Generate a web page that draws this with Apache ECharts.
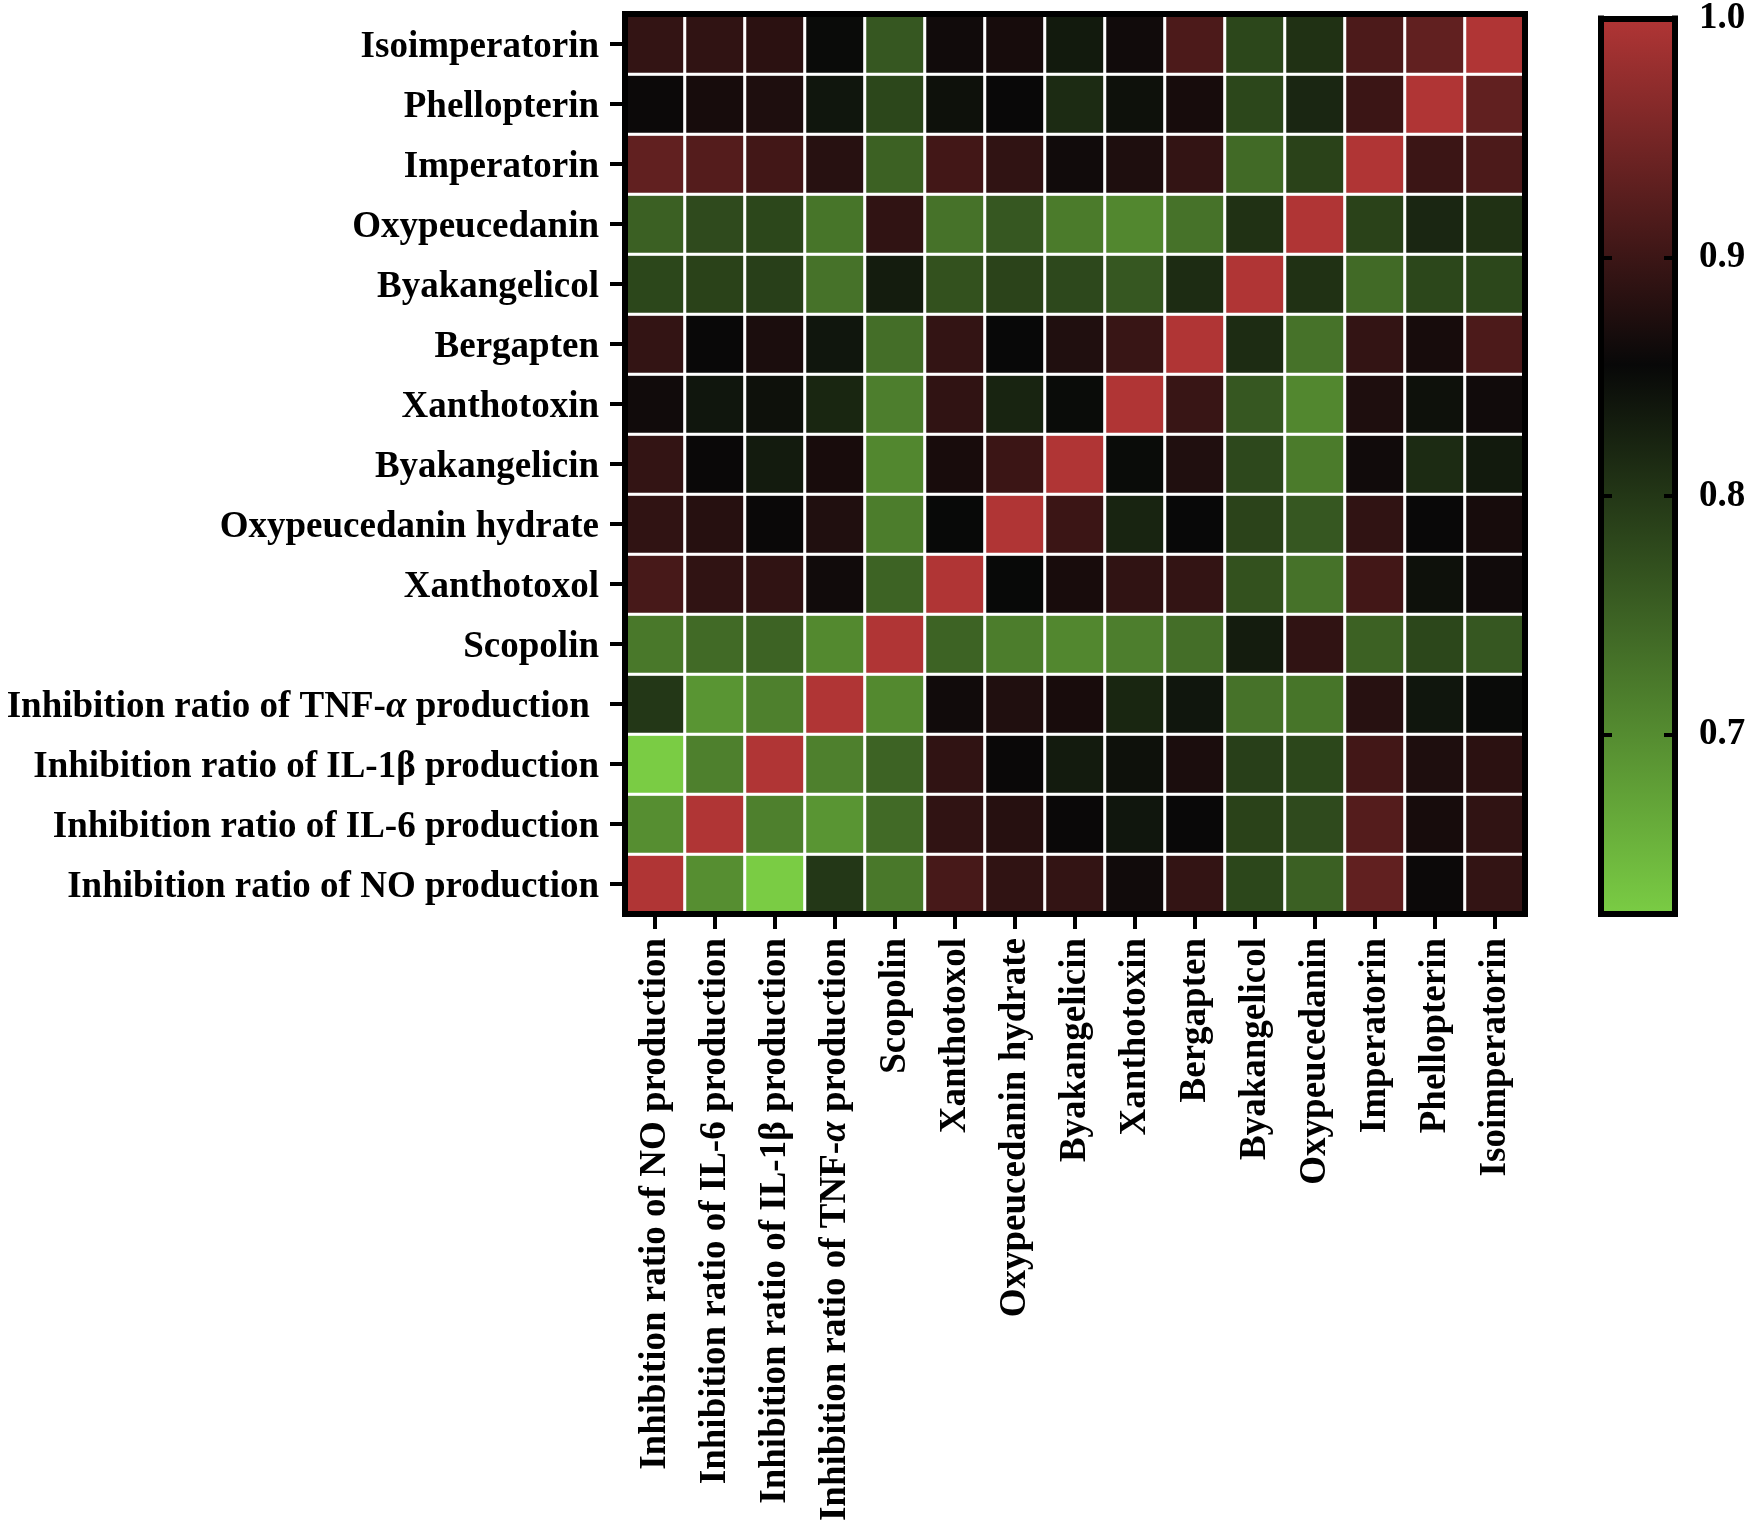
<!DOCTYPE html>
<html><head><meta charset="utf-8">
<script src="https://cdn.jsdelivr.net/npm/echarts@6/dist/echarts.min.js"></script>
<style>html,body{margin:0;padding:0;background:#fff}#c{width:1757px;height:1537px}</style>
</head><body><div id="c"></div>
<script>
// Categories (bottom-to-top on y, left-to-right on x)
const categories = [
  'Inhibition ratio of NO production',
  'Inhibition ratio of IL-6 production',
  'Inhibition ratio of IL-1β production',
  'Inhibition ratio of TNF-α production',
  'Scopolin','Xanthotoxol','Oxypeucedanin hydrate','Byakangelicin','Xanthotoxin',
  'Bergapten','Byakangelicol','Oxypeucedanin','Imperatorin','Phellopterin','Isoimperatorin'
];
// Correlation values, one array per y category (columns follow `categories`)
const rowNO            = [1.000,0.698,0.625,0.800,0.723,0.909,0.889,0.892,0.863,0.892,0.781,0.752,0.932,0.858,0.892];
const rowIL6           = [0.698,1.000,0.714,0.690,0.740,0.889,0.881,0.857,0.838,0.856,0.787,0.777,0.920,0.868,0.889];
const rowIL1b          = [0.625,0.714,1.000,0.714,0.748,0.889,0.857,0.833,0.844,0.872,0.790,0.781,0.905,0.874,0.885];
const rowTNF           = [0.800,0.690,0.714,1.000,0.704,0.863,0.876,0.869,0.820,0.838,0.730,0.727,0.882,0.838,0.851];
const rowScopolin      = [0.723,0.740,0.748,0.704,1.000,0.748,0.718,0.706,0.716,0.735,0.831,0.889,0.750,0.781,0.762];
const rowXanthotoxol   = [0.909,0.889,0.889,0.863,0.748,1.000,0.854,0.869,0.889,0.892,0.769,0.730,0.905,0.844,0.863];
const rowOxyHydrate    = [0.889,0.881,0.857,0.876,0.718,0.854,1.000,0.899,0.822,0.855,0.785,0.762,0.889,0.856,0.868];
const rowByakangelicin = [0.892,0.857,0.833,0.869,0.706,0.869,0.899,1.000,0.850,0.876,0.780,0.720,0.863,0.814,0.834];
const rowXanthotoxin   = [0.863,0.838,0.844,0.820,0.716,0.889,0.822,0.850,1.000,0.896,0.762,0.706,0.874,0.844,0.863];
const rowBergapten     = [0.892,0.856,0.872,0.838,0.735,0.892,0.855,0.876,0.896,1.000,0.812,0.730,0.892,0.868,0.914];
const rowByakangelicol = [0.781,0.787,0.790,0.730,0.831,0.769,0.785,0.780,0.762,0.812,1.000,0.807,0.740,0.781,0.781];
const rowOxypeucedanin = [0.752,0.777,0.781,0.727,0.889,0.730,0.762,0.720,0.706,0.730,0.807,1.000,0.787,0.819,0.807];
const rowImperatorin   = [0.932,0.920,0.905,0.882,0.750,0.905,0.889,0.863,0.874,0.892,0.740,0.787,1.000,0.899,0.914];
const rowPhellopterin  = [0.858,0.868,0.874,0.838,0.781,0.844,0.856,0.814,0.844,0.868,0.781,0.819,0.899,1.000,0.932];
const rowIsoimperatorin= [0.892,0.889,0.885,0.851,0.762,0.863,0.868,0.834,0.863,0.914,0.781,0.807,0.914,0.932,1.000];
const rows = [rowNO,rowIL6,rowIL1b,rowTNF,rowScopolin,rowXanthotoxol,rowOxyHydrate,rowByakangelicin,
  rowXanthotoxin,rowBergapten,rowByakangelicol,rowOxypeucedanin,rowImperatorin,rowPhellopterin,rowIsoimperatorin];
// Colour scale
const scaleMin = 0.625, scaleMax = 1.0;
const colorbarTicks = [0.7, 0.8, 0.9, 1.0];
const colorStops = [
  {v: 0.625, c: [122, 204, 68]},
  {v: 0.855, c: [8, 8, 8]},
  {v: 1.000, c: [176, 53, 53]}
];

function colorAt(v) {
  for (let k = 0; k < colorStops.length - 1; k++) {
    const a = colorStops[k], b = colorStops[k + 1];
    if (v <= b.v || k === colorStops.length - 2) {
      const t = Math.max(0, Math.min(1, (v - a.v) / (b.v - a.v)));
      const c = a.c.map((x, i) => Math.round(x + (b.c[i] - x) * t));
      return 'rgb(' + c.join(',') + ')';
    }
  }
}
const N = 80;
const inRangeColors = [];
for (let k = 0; k <= N; k++) inRangeColors.push(colorAt(scaleMin + (scaleMax - scaleMin) * k / N));
const gradStops = colorStops.slice().reverse().map(s => ({
  offset: (scaleMax - s.v) / (scaleMax - scaleMin), color: 'rgb(' + s.c.join(',') + ')'
}));

const heatData = [];
rows.forEach((r, i) => r.forEach((v, j) => heatData.push([j, i, v])));

const FONT = 'Liberation Serif, Times New Roman, serif';
const txt = {fontFamily: FONT, fontWeight: 'bold', fontSize: 37, color: '#000'};
const richX = {b: Object.assign({}, txt), i: Object.assign({fontStyle: 'italic'}, txt)};
const richY = {b: Object.assign({padding: [7, 0, 0, 0]}, txt), i: Object.assign({fontStyle: 'italic', padding: [7, 0, 0, 0]}, txt)};
function fmt(trail) {
  return function (v) {
    const s = v + (trail && v.indexOf('TNF') >= 0 ? ' ' : '');
    return '{b|' + s.replace('α', '}{i|α}{b|') + '}';
  };
}
const frameLine = {show: true, lineStyle: {color: '#000', width: 6, cap: 'square'}};
const tick = {show: true, length: 15, alignWithLabel: true, lineStyle: {color: '#000', width: 4}};

const chart = echarts.init(document.getElementById('c'));
chart.setOption({
  animation: false,
  backgroundColor: '#fff',
  grid: [
    {left: 625, top: 14, width: 900, height: 900},
    {left: 1601, top: 14, width: 74, height: 900}
  ],
  xAxis: [
    {gridIndex: 0, type: 'category', data: categories, position: 'bottom', z: 10,
     axisLine: frameLine, axisTick: tick, splitLine: {show: false},
     axisLabel: {rotate: 90, margin: 24, formatter: fmt(false), rich: richX, interval: 0}},
    {gridIndex: 0, type: 'category', data: categories, position: 'top', z: 10,
     axisLine: frameLine, axisTick: {show: false}, axisLabel: {show: false}},
    {gridIndex: 1, type: 'category', data: ['scale'], position: 'bottom', z: 10,
     axisLine: frameLine, axisTick: {show: false}, axisLabel: {show: false}},
    {gridIndex: 1, type: 'category', data: ['scale'], position: 'top', z: 10,
     axisLine: frameLine, axisTick: {show: false}, axisLabel: {show: false}}
  ],
  yAxis: [
    {gridIndex: 0, type: 'category', data: categories, position: 'left', z: 10,
     axisLine: frameLine, axisTick: tick, splitLine: {show: false},
     axisLabel: {margin: 26, formatter: fmt(true), rich: richY, interval: 0}},
    {gridIndex: 0, type: 'category', data: categories, position: 'right', z: 10,
     axisLine: frameLine, axisTick: {show: false}, axisLabel: {show: false}},
    {gridIndex: 1, type: 'value', min: scaleMin, max: scaleMax, position: 'right', z: 10,
     axisLine: frameLine, splitLine: {show: false},
     axisTick: {show: true, inside: true, length: 11, customValues: colorbarTicks.slice(0, 3), lineStyle: {color: '#000', width: 4}},
     axisLabel: {margin: 24, customValues: colorbarTicks, formatter: v => v.toFixed(1),
       fontFamily: FONT, fontWeight: 'bold', fontSize: 37, color: '#000', padding: [4, 0, 0, 0]}},
    {gridIndex: 1, type: 'value', min: scaleMin, max: scaleMax, position: 'left', z: 10,
     axisLine: frameLine, splitLine: {show: false}, axisLabel: {show: false},
     axisTick: {show: true, inside: true, length: 11, customValues: colorbarTicks.slice(0, 3), lineStyle: {color: '#000', width: 4}}}
  ],
  visualMap: {
    show: false, type: 'continuous', min: scaleMin, max: scaleMax, seriesIndex: 0,
    inRange: {color: inRangeColors}
  },
  series: [
    {type: 'heatmap', xAxisIndex: 0, yAxisIndex: 0, data: heatData,
     itemStyle: {borderColor: '#fff', borderWidth: 3}, emphasis: {disabled: true}},
    {type: 'bar', xAxisIndex: 2, yAxisIndex: 2, stack: 'cb', barWidth: '100%', silent: true,
     data: [scaleMin], itemStyle: {color: 'rgba(0,0,0,0)'}},
    {type: 'bar', xAxisIndex: 2, yAxisIndex: 2, stack: 'cb', barWidth: '100%', silent: true,
     data: [scaleMax - scaleMin],
     itemStyle: {color: new echarts.graphic.LinearGradient(0, 0, 0, 1, gradStops)}}
  ]
});
</script>
</body></html>
